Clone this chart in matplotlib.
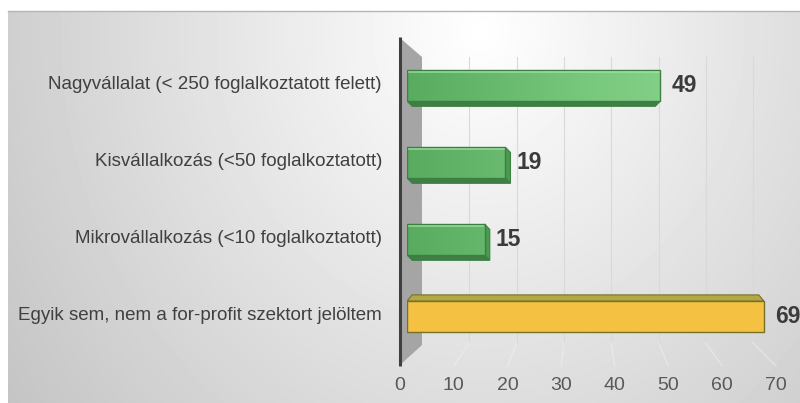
import numpy as np
import matplotlib.pyplot as plt
from matplotlib.colors import LinearSegmentedColormap, Normalize
from matplotlib.patches import Polygon
from matplotlib.transforms import ScaledTranslation

plt.rcParams["font.family"] = ["Liberation Sans", "DejaVu Sans"]

categories = [
    "Nagyvállalat (< 250 foglalkoztatott felett)",
    "Kisvállalkozás (<50 foglalkoztatott)",
    "Mikrovállalkozás (<10 foglalkoztatott)",
    "Egyik sem, nem a for-profit szektort jelöltem",
]
values = [49, 19, 15, 69]
bar_kinds = ["green", "green", "green", "yellow"]
x_ticks = [0, 10, 20, 30, 40, 50, 60, 70]

W, H = 800, 403
BAR_H = 0.40
# fake 3d: depth offset in data units, "vanishing" x and horizon row
DEPTH_X, DEPTH_Y = 1.0, 0.07
VP_X, HORIZON = 34, 2.5

styles = {
    "green": dict(edge="#3b7f41", depth="#3f7e45", side="#4c9a52"),
    "yellow": dict(face="#f4c142", edge="#76702b", depth="#b3a843", side="#c9a83a"),
}
green_cmap = LinearSegmentedColormap.from_list("grn", ["#58ab5f", "#78c87d", "#92db96"])


def px_box(left, top, right, bottom):
    return [left / W, 1 - bottom / H, (right - left) / W, (bottom - top) / H]


fig = plt.figure(figsize=(W / 100, H / 100), dpi=100)

# background with radial gradient, wall and back-wall grid (pixel space)
bg = fig.add_axes([0, 0, 1, 1], zorder=0)
yy, xx = np.mgrid[11:H:1.0, 8:W:1.0]
d = np.hypot((xx - 480) / 500, (yy - 30) / 560)
shade = 1 - 0.2 * np.clip(d, 0, 1.3)
bg.imshow(shade, cmap="gray", vmin=0, vmax=1, extent=(8, W, H, 11),
          aspect="auto", interpolation="bilinear")
bg.plot([8, W], [11, 11], color="#b5b5b5", lw=1)
bg.add_patch(Polygon([(400, 38), (422, 57), (422, 345), (400, 365)],
                     closed=True, fc="#a5a5a5", ec="none"))
bg.plot([400, 400], [37, 366], color="#3f3f3f", lw=2.2, solid_capstyle="butt")
for t in x_ticks[1:]:
    bx = 422 + t * 4.73
    fx = 400 + t * 5.37
    bg.plot([bx, bx], [57, 343], color="#d9d9d9", lw=0.8)
    bg.plot([bx, fx], [343, 366], color="#f2f2f2", lw=0.9, alpha=0.55)
bg.set_xlim(0, W)
bg.set_ylim(H, 0)
bg.axis("off")

# floor axis with tick labels
fl = fig.add_axes(px_box(400, 57, 776, 366), zorder=1)
fl.patch.set_alpha(0)
fl.set_xlim(0, 70)
fl.set_xticks(x_ticks)
fl.set_yticks([])
fl.tick_params(axis="x", length=0, pad=8, labelsize=14, labelcolor="#595959")
for s in fl.spines.values():
    s.set_visible(False)

# bars
ax = fig.add_axes(px_box(407, 47, 795, 355), zorder=2)
ax.patch.set_alpha(0)
pos = np.arange(len(values))
bars = ax.barh(pos, values, height=BAR_H, zorder=4, linewidth=1.0)

for i, (bar, v, kind) in enumerate(zip(bars, values, bar_kinds)):
    st = styles[kind]
    top, bot = i - BAR_H / 2, i + BAR_H / 2
    dy = DEPTH_Y if i < HORIZON else -DEPTH_Y * 1.15
    dxl = DEPTH_X
    dxr = DEPTH_X if v < VP_X else -DEPTH_X
    edge_y = bot if dy > 0 else top
    ax.add_patch(Polygon([(0, edge_y), (v, edge_y), (v + dxr, edge_y + dy), (dxl, edge_y + dy)],
                         closed=True, fc=st["depth"], ec=st["edge"], lw=0.8, zorder=2))
    if dxr > 0:
        ax.add_patch(Polygon([(v, top), (v, bot), (v + dxr, bot + dy), (v + dxr, top + dy)],
                             closed=True, fc=st["side"], ec=st["edge"], lw=0.8, zorder=2))
    bar.set_edgecolor(st["edge"])
    if kind == "green":
        bar.set_facecolor("none")
        im = ax.imshow(np.linspace(0, v, 200)[None, :], cmap=green_cmap, norm=Normalize(0, 70),
                       extent=(0, v, bot, top), aspect="auto", zorder=3, interpolation="bilinear")
        im.set_clip_path(bar)
        # light rim along the top of the front face
        ax.plot([0.3, v - 0.3], [top + 0.03, top + 0.03], color="#a8e6aa", lw=1.2, alpha=0.7, zorder=4)
    else:
        bar.set_facecolor(st["face"])
    ax.annotate(str(v), xy=(v, i), xytext=(8, 0), textcoords="offset points",
                ha="left", va="center", fontsize=16.5, fontweight="bold", color="#3b3b3b",
                annotation_clip=False)

ax.set_xlim(0, 75)
ax.set_ylim(3.5, -0.5)
ax.set_xticks([])
ax.set_yticks(pos, categories)
ax.tick_params(axis="y", length=0, pad=18, labelsize=13.5, labelcolor="#404040")
for lbl in ax.get_yticklabels():
    lbl.set_transform(lbl.get_transform() + ScaledTranslation(0, 3 / 100, fig.dpi_scale_trans))
for s in ax.spines.values():
    s.set_visible(False)

fig.savefig("out.png", dpi=100)
